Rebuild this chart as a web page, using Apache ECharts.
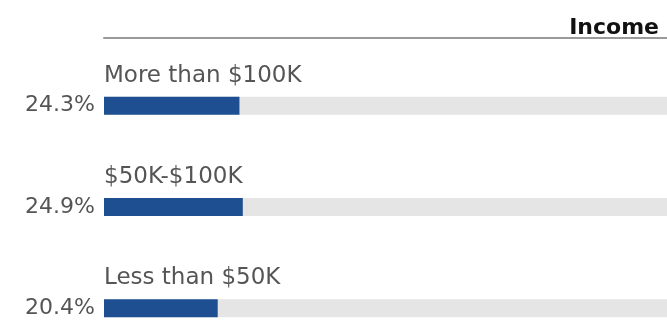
<!DOCTYPE html>
<html>
<head>
<meta charset="utf-8">
<script src="https://cdn.jsdelivr.net/npm/echarts@6/dist/echarts.min.js"></script>
<style>
  html, body { margin: 0; padding: 0; background: #fff; }
  #chart { width: 667px; height: 327px; }
</style>
</head>
<body>
<div id="chart"></div>
<script>
// Income brackets, top to bottom
const categories = ['More than $100K', '$50K-$100K', 'Less than $50K'];
// Share of respondents in each bracket (%)
const shares = [24.3, 24.9, 20.4];
const chartTitle = 'Income';

const chart = echarts.init(document.getElementById('chart'), null, { renderer: 'canvas' });

const textColor = '#555555';
const baseFont = 'DejaVu Sans';

chart.setOption({
  animation: false,
  backgroundColor: '#ffffff',
  title: {
    text: chartTitle,
    right: 3,
    top: 12,
    textStyle: {
      fontFamily: baseFont,
      fontSize: 22,
      fontWeight: 'bold',
      color: '#111111'
    }
  },
  grid: {
    left: 104,
    right: 0,
    top: 55,
    height: 304,
    outerBoundsMode: 'none',
    containLabel: false
  },
  xAxis: {
    type: 'value',
    position: 'top',
    offset: 17,
    min: 0,
    max: 101,
    splitLine: { show: false },
    axisTick: { show: false },
    axisLabel: { show: false },
    axisLine: { show: true, lineStyle: { color: '#9a9a9a', width: 2 } }
  },
  yAxis: {
    type: 'category',
    inverse: true,
    data: categories,
    axisLine: { show: false },
    axisTick: { show: false },
    axisLabel: {
      inside: true,
      margin: 0,
      verticalAlign: 'bottom',
      lineHeight: 24,
      padding: [0, 0, 18, 0],
      fontFamily: baseFont,
      fontSize: 23,
      color: textColor
    }
  },
  series: [{
    type: 'bar',
    data: shares,
    barWidth: 18,
    itemStyle: { color: '#1d4f91' },
    showBackground: true,
    backgroundStyle: { color: '#e5e5e5' },
    label: {
      show: true,
      position: 'left',
      distance: 9,
      formatter: p => p.value + '%',
      fontFamily: baseFont,
      fontSize: 22,
      color: textColor
    }
  }]
});
</script>
</body>
</html>
